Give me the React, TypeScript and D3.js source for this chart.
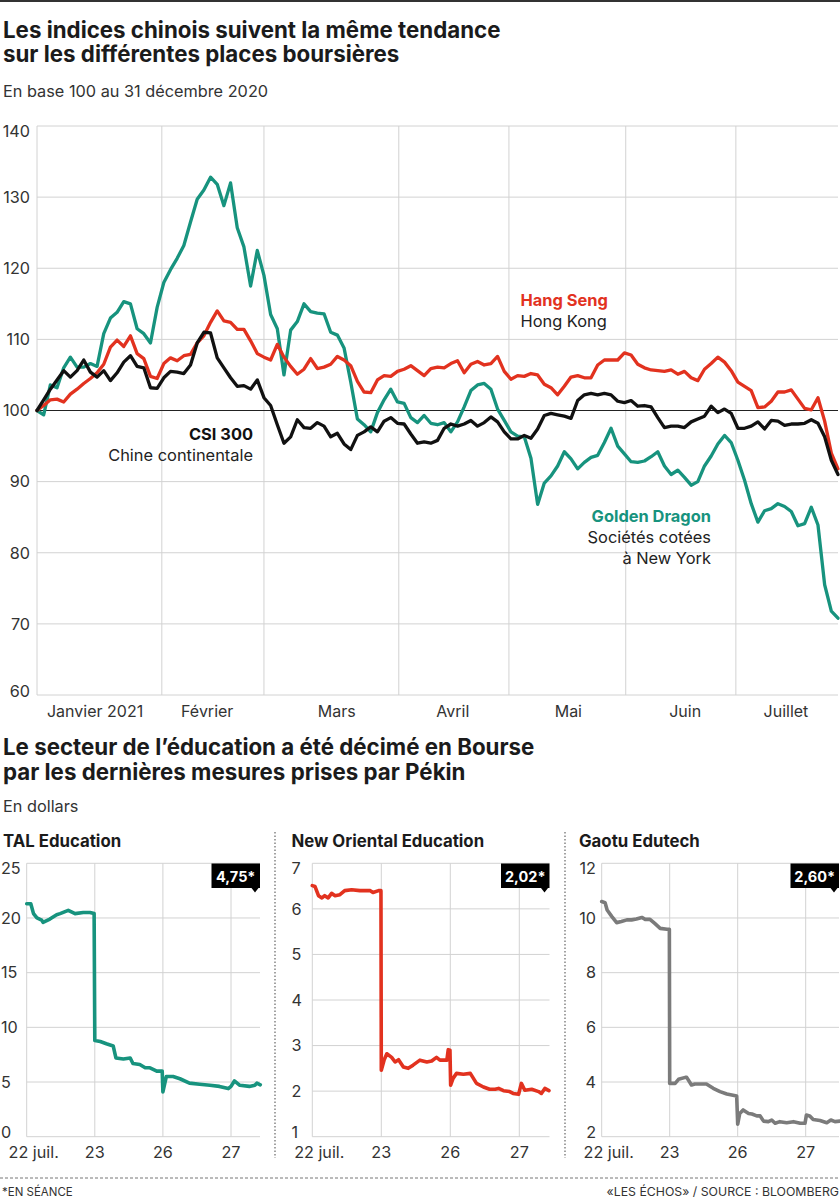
import React from "react";
import * as d3 from "d3";

// ---------- Main chart data (base 100 au 31 décembre 2020) ----------
const monthLabels = ["Janvier 2021", "Février", "Mars", "Avril", "Mai", "Juin", "Juillet"];
const monthBoundaries = [0, 18.7, 34, 54.2, 70.7, 88.2, 104.7];
const monthLabelPositions = [8.7, 25.5, 44.9, 62.3, 79.6, 97.1, 112.2];
const indexTicks = [60, 70, 80, 90, 100, 110, 120, 130, 140];

const hangSeng = [
  100, 100.7, 101.5, 101.6, 101.2, 102.3, 103, 103.8, 104.5, 105.3,
  106.5, 108.9, 109.9, 109, 110.5, 108, 107.3, 104.8, 104.5, 106.6,
  107.4, 107, 107.7, 107.9, 109.5, 110.5, 112.4, 114, 112.6, 112.4,
  111.4, 111.4, 109.8, 108, 107.5, 107.1, 109.3, 107.5, 106.2, 105.1,
  105.8, 107.3, 105.9, 106.1, 106.5, 107.6, 107.1, 106.3, 104.1, 102.6,
  102.5, 104.3, 104.9, 104.8, 105.5, 105.8, 106.3, 105.6, 104.9, 105.9,
  106.1, 106, 106.6, 107, 105.3, 106.5, 106.9, 106.4, 106.6, 107.6,
  105.5, 104.4, 104.9, 104.8, 105.2, 105, 103.7, 103.2, 102.2, 103.4,
  104.7, 104.9, 104.6, 104.6, 106.4, 107.1, 107.1, 107.1, 108.1, 107.8,
  106.5, 106, 105.7, 105.6, 105.5, 105.7, 105.1, 105.5, 104.6, 104.2,
  105.8, 106.6, 107.5, 106.8, 105.6, 104, 103.4, 102.8, 100.4, 100.5,
  101.3, 102.6, 102.6, 102.9, 101.6, 100.3, 100.1, 101.8, 98.5, 94, 91.8,
];

const csi300 = [
  100, 101.5, 103, 104.3, 105.6, 104.7, 105.6, 107.1, 105.4, 104.7,
  105.6, 104.2, 105.3, 106.8, 107.7, 106.2, 106, 103.2, 103.1, 104.6,
  105.5, 105.4, 105.2, 106.4, 109.5, 111, 110.9, 107.4, 106, 104.6,
  103.4, 103.5, 103, 104.3, 101.8, 100.7, 98, 95.4, 96.3, 98.7,
  97.6, 97.5, 98.3, 97.8, 96.3, 96.8, 95.3, 94.5, 96.5, 97,
  97.7, 97, 98.5, 99, 98.2, 98.1, 96.7, 95.4, 95.6, 95.4,
  95.8, 97.5, 98.1, 97.8, 98.1, 98.6, 97.8, 98.3, 99.1, 98.4,
  97, 96, 96, 96.5, 96.1, 97.4, 99.3, 99.6, 99.4, 99.2,
  98.9, 101.4, 102.2, 102.4, 102.2, 102.4, 102.2, 101.3, 101.1, 101.4,
  100.6, 100.7, 100.5, 99, 97.6, 97.8, 97.8, 97.6, 98.4, 98.8,
  99.2, 100.6, 99.7, 100.2, 99.6, 97.5, 97.5, 97.8, 98.4, 97.4,
  98.6, 98.5, 97.9, 98.1, 98.1, 98.2, 98.7, 98.2, 96.3, 93, 91,
];

const goldenDragon = [
  100, 99.4, 103.6, 103.2, 106, 107.5, 106.1, 106.1, 106.6, 106.2,
  110.8, 113, 113.8, 115.3, 115, 111.5, 110.8, 109.5, 114.5, 118,
  119.8, 121.4, 123.2, 126.5, 129.7, 131, 132.8, 131.8, 128.8, 132,
  125.7, 123, 117.5, 122.5, 119, 113.5, 111.5, 105, 111.3, 112.5,
  115, 113.9, 113.7, 113.6, 111, 110.6, 108.8, 104, 98.8, 98,
  97, 99.7, 101.5, 103, 101.2, 101, 99, 98.3, 99.3, 98.2,
  98, 98.3, 97, 98.4, 100.5, 102.8, 103.6, 103.8, 103, 100.2,
  98.6, 97, 96.4, 96.3, 93.3, 86.8, 89.8, 90.8, 92.2, 94.2,
  93.2, 91.8, 92.7, 93.4, 93.7, 95.5, 97.5, 95, 93.9, 92.8,
  92.7, 92.9, 93.5, 94.2, 92.2, 91, 91.6, 90.6, 89.5, 90,
  92.2, 93.6, 95.3, 96.5, 95.5, 93, 90.2, 86.9, 84.3, 85.9,
  86.2, 86.9, 86.5, 85.8, 83.8, 84.1, 86.4, 83.9, 75.5, 71.8, 70.8,
];

// ---------- Small multiples data (en dollars) ----------
const dayLabels = ["22 juil.", "23", "26", "27"];
const dayTicks = [0, 1, 2, 3];

const talTimes = [0, 0.06, 0.1, 0.15, 0.22, 0.24, 0.34, 0.44, 0.49, 0.61, 0.71, 0.83, 0.93, 0.99, 1.0, 1.08, 1.17, 1.27, 1.31, 1.42, 1.52, 1.56, 1.66, 1.74, 1.81, 1.91, 1.99, 2.0, 2.05, 2.15, 2.25, 2.39, 2.54, 2.69, 2.83, 2.96, 3.0, 3.05, 3.13, 3.27, 3.35, 3.38, 3.43];
const talValues = [21.3, 21.3, 20.4, 20, 19.8, 19.6, 19.9, 20.3, 20.4, 20.7, 20.4, 20.5, 20.5, 20.4, 8.8, 8.7, 8.5, 8.3, 7.2, 7.1, 7.2, 6.7, 6.6, 6.3, 6.3, 6, 6, 4.1, 5.5, 5.5, 5.3, 4.9, 4.8, 4.7, 4.6, 4.4, 4.6, 5.1, 4.7, 4.6, 4.7, 4.9, 4.75];
const talTicks = [0, 5, 10, 15, 20, 25];

const noeTimes = [0, 0.04, 0.09, 0.14, 0.18, 0.23, 0.28, 0.33, 0.4, 0.47, 0.57, 0.69, 0.84, 0.88, 0.96, 0.995, 1.0, 1.04, 1.08, 1.15, 1.2, 1.25, 1.32, 1.39, 1.46, 1.56, 1.66, 1.73, 1.8, 1.85, 1.95, 1.97, 1.995, 2.005, 2.04, 2.09, 2.19, 2.29, 2.38, 2.48, 2.57, 2.65, 2.7, 2.77, 2.86, 2.91, 2.99, 3.03, 3.08, 3.18, 3.28, 3.32, 3.37, 3.43];
const noeValues = [6.51, 6.49, 6.29, 6.24, 6.29, 6.24, 6.34, 6.29, 6.31, 6.4, 6.42, 6.4, 6.4, 6.36, 6.4, 6.4, 2.46, 2.68, 2.82, 2.74, 2.64, 2.69, 2.53, 2.5, 2.57, 2.68, 2.64, 2.66, 2.74, 2.68, 2.68, 2.91, 2.9, 2.13, 2.28, 2.39, 2.37, 2.39, 2.17, 2.09, 2.04, 2.04, 2.06, 2.01, 1.99, 1.95, 1.93, 2.17, 2.02, 2.04, 1.99, 1.95, 2.06, 2.01];
const noeTicks = [1, 2, 3, 4, 5, 6, 7];

const gaoTimes = [0, 0.05, 0.08, 0.15, 0.22, 0.29, 0.37, 0.44, 0.51, 0.59, 0.64, 0.71, 0.78, 0.86, 0.96, 0.995, 1.0, 1.08, 1.13, 1.23, 1.25, 1.32, 1.37, 1.45, 1.54, 1.64, 1.74, 1.84, 1.985, 2.0, 2.03, 2.08, 2.16, 2.21, 2.28, 2.33, 2.38, 2.45, 2.5, 2.55, 2.62, 2.72, 2.82, 2.92, 2.99, 3.01, 3.06, 3.11, 3.21, 3.31, 3.37, 3.43, 3.5];
const gaoValues = [10.6, 10.56, 10.29, 10.05, 9.83, 9.87, 9.93, 9.93, 9.96, 10.02, 9.95, 9.95, 9.8, 9.62, 9.59, 9.59, 3.95, 3.95, 4.1, 4.17, 4.17, 3.89, 3.93, 3.93, 3.93, 3.77, 3.65, 3.56, 3.49, 2.46, 2.85, 2.98, 2.85, 2.83, 2.76, 2.76, 2.57, 2.55, 2.61, 2.49, 2.55, 2.51, 2.55, 2.49, 2.49, 2.79, 2.76, 2.63, 2.59, 2.51, 2.61, 2.55, 2.57];
const gaoTicks = [2, 4, 6, 8, 10, 12];

const panelTitles = ["TAL Education", "New Oriental Education", "Gaotu Edutech"];
const lastQuotes = ["4,75*", "2,02*", "2,60*"];

// ---------- Styles ----------
const FONT = "Inter, 'Noto Sans', Arial, sans-serif";
const RED = "#e2321f";
const TEAL = "#17937e";
const BLACK = "#111111";
const GREY_LINE = "#7b7b7b";
const GRID = "#d2d2d2";
const TEXT = "#1b1b1b";

type Panel = {
  title: string;
  times: number[];
  values: number[];
  ticks: number[];
  quote: string;
  color: string;
  left: number;
  day3: number;
  right: number;
  tickAnchor: "start" | "end";
  tickX: number;
  titleX: number;
};

export default function App() {
  const W = 840;
  const H = 1200;

  // main chart scales
  const x = d3.scaleLinear().domain([0, hangSeng.length - 1]).range([37, 838]);
  const y = d3.scaleLinear().domain([60, 140]).range([695, 126]);
  const mainLine = d3
    .line<number>()
    .x((_, i) => x(i))
    .y((d) => y(d));

  const yMin = indexTicks[0];
  const yMax = indexTicks[indexTicks.length - 1];

  const panels: Panel[] = [
    { title: panelTitles[0], times: talTimes, values: talValues, ticks: talTicks, quote: lastQuotes[0], color: TEAL, left: 26.7, day3: 231, right: 260, tickAnchor: "start", tickX: 1, titleX: 3 },
    { title: panelTitles[1], times: noeTimes, values: noeValues, ticks: noeTicks, quote: lastQuotes[1], color: RED, left: 312.3, day3: 519.3, right: 549.5, tickAnchor: "start", tickX: 291.5, titleX: 291.5 },
    { title: panelTitles[2], times: gaoTimes, values: gaoValues, ticks: gaoTicks, quote: lastQuotes[2], color: GREY_LINE, left: 601.7, day3: 805.7, right: 839, tickAnchor: "end", tickX: 596, titleX: 579 },
  ];
  const pTop = 863.3;
  const pBottom = 1136.7;

  return (
    <>
      <style>{"body{margin:0;}"}</style>
      <svg width={W} height={H} viewBox={`0 0 ${W} ${H}`} style={{ display: "block", background: "#fff" }} fontFamily={FONT}>
        <rect x={0} y={0} width={W} height={H} fill="#fff" />
        <line x1={0} x2={W} y1={1} y2={1} stroke="#333" strokeWidth={2} />

        {/* Titles */}
        <text x={3} y={37.5} fontSize={22.3} fontWeight={700} fill={TEXT}>Les indices chinois suivent la même tendance</text>
        <text x={3} y={62} fontSize={22.3} fontWeight={700} fill={TEXT}>sur les différentes places boursières</text>
        <text x={3} y={96.5} fontSize={16.3} fill="#333">En base 100 au 31 décembre 2020</text>

        {/* Main grid */}
        {indexTicks.map((t) => (
          <line key={"hg" + t} x1={x(0)} x2={x(hangSeng.length - 1)} y1={y(t)} y2={y(t)} stroke={GRID} strokeWidth={1} />
        ))}
        {monthBoundaries.map((m, i) => (
          <line key={"vg" + i} x1={x(m)} x2={x(m)} y1={y(yMax)} y2={y(yMin)} stroke={GRID} strokeWidth={1} />
        ))}
        <line x1={x(0)} x2={x(hangSeng.length - 1)} y1={y(100)} y2={y(100)} stroke="#222" strokeWidth={1.2} />

        {indexTicks.map((t, i) => {
          const by = i === 0 ? y(t) + 1.5 : i === indexTicks.length - 1 ? y(t) + 10.5 : y(t) + 5.8;
          return (
            <text key={"yl" + t} x={30} y={by} fontSize={16.2} textAnchor="end" fill="#333">{t}</text>
          );
        })}
        {monthLabels.map((m, i) => (
          <text key={"ml" + m} x={x(monthLabelPositions[i])} y={717} fontSize={16} textAnchor="middle" fill="#333">{m}</text>
        ))}

        {/* Lines */}
        <path d={mainLine(goldenDragon) || ""} fill="none" stroke={TEAL} strokeWidth={3.3} strokeLinejoin="round" strokeLinecap="round" />
        <path d={mainLine(hangSeng) || ""} fill="none" stroke={RED} strokeWidth={3.3} strokeLinejoin="round" strokeLinecap="round" />
        <path d={mainLine(csi300) || ""} fill="none" stroke={BLACK} strokeWidth={3.3} strokeLinejoin="round" strokeLinecap="round" />

        {/* Annotations */}
        <text x={520.5} y={306} fontSize={16.4} fontWeight={700} fill={RED}>Hang Seng</text>
        <text x={520.5} y={327} fontSize={16.4} fill="#222">Hong Kong</text>
        <text x={253} y={440} fontSize={16.4} fontWeight={700} fill={BLACK} textAnchor="end">CSI 300</text>
        <text x={253} y={461} fontSize={16.4} fill="#222" textAnchor="end">Chine continentale</text>
        <text x={711} y={522} fontSize={16.4} fontWeight={700} fill={TEAL} textAnchor="end">Golden Dragon</text>
        <text x={711} y={543} fontSize={16.4} fill="#222" textAnchor="end">Sociétés cotées</text>
        <text x={711} y={564} fontSize={16.4} fill="#222" textAnchor="end">à New York</text>

        {/* Section 2 titles */}
        <text x={3} y={755} fontSize={22.3} fontWeight={700} fill={TEXT}>Le secteur de l’éducation a été décimé en Bourse</text>
        <text x={3} y={780} fontSize={22.3} fontWeight={700} fill={TEXT}>par les dernières mesures prises par Pékin</text>
        <text x={3} y={811.5} fontSize={16.3} fill="#333">En dollars</text>

        {/* Panels */}
        {panels.map((p, pi) => {
          const px = d3.scaleLinear().domain([0, 3]).range([p.left, p.day3]);
          const py = d3.scaleLinear().domain([p.ticks[0], p.ticks[p.ticks.length - 1]]).range([pBottom, pTop]);
          const pLine = d3
            .line<number>()
            .x((_, i) => px(p.times[i]))
            .y((d) => py(d));
          const bx1 = p.right;
          const bx0 = bx1 - 48.5;
          const by0 = 863.5;
          const by1 = 888;
          return (
            <g key={"panel" + pi}>
              <text x={p.titleX} y={846.5} fontSize={16.8} fontWeight={700} fill={TEXT}>{p.title}</text>
              {p.ticks.map((t) => (
                <line key={"pg" + t} x1={p.left} x2={p.right} y1={py(t)} y2={py(t)} stroke={GRID} strokeWidth={1} />
              ))}
              {dayTicks.map((d) => (
                <line key={"pv" + d} x1={px(d)} x2={px(d)} y1={pTop} y2={pBottom} stroke={GRID} strokeWidth={1} />
              ))}
              {p.ticks.map((t, i) => {
                const by = i === 0 ? py(t) + 1.5 : i === p.ticks.length - 1 ? py(t) + 11 : py(t) + 5.8;
                return (
                  <text key={"pt" + t} x={p.tickX} y={by} fontSize={16.2} textAnchor={p.tickAnchor} fill="#333">{t}</text>
                );
              })}
              {dayLabels.map((l, i) => (
                <text key={"pd" + i} x={px(dayTicks[i]) + (i === 0 ? 7 : 0)} y={1158} fontSize={16.2} textAnchor="middle" fill="#333">{l}</text>
              ))}
              <path d={pLine(p.values) || ""} fill="none" stroke={p.color} strokeWidth={3.6} strokeLinejoin="round" strokeLinecap="round" />
              <path
                d={`M${bx0},${by0} H${bx1} V${by1} H${bx1 - 1.5} L${bx1 - 5},${by1 + 4.5} L${bx1 - 8.5},${by1} H${bx0} Z`}
                fill="#000"
              />
              <text x={(bx0 + bx1) / 2} y={881.5} fontSize={14.5} fontWeight={700} fill="#fff" textAnchor="middle">{p.quote}</text>
            </g>
          );
        })}

        {/* Separators */}
        <line x1={275} x2={275} y1={832} y2={1158} stroke="#666" strokeWidth={1.2} strokeDasharray="1.5,2" />
        <line x1={565} x2={565} y1={832} y2={1158} stroke="#666" strokeWidth={1.2} strokeDasharray="1.5,2" />
        <line x1={0} x2={W} y1={1178} y2={1178} stroke="#777" strokeWidth={1} strokeDasharray="3,2" />

        {/* Footer */}
        <text x={2} y={1196} fontSize={11.5} fill="#333">*EN SÉANCE</text>
        <text x={839} y={1196} fontSize={12.3} fill="#333" textAnchor="end">«LES ÉCHOS» / SOURCE : BLOOMBERG</text>
      </svg>
    </>
  );
}
